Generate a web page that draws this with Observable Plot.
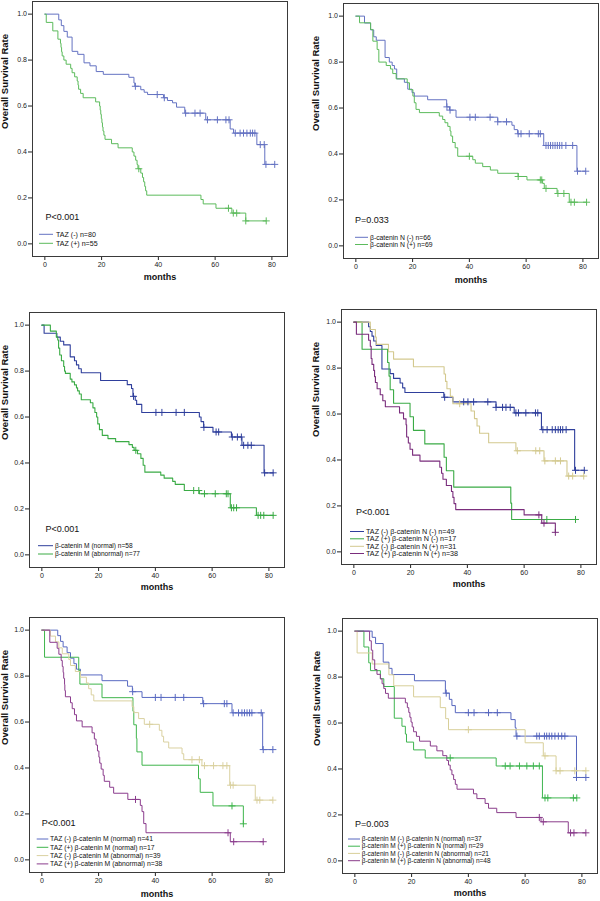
<!DOCTYPE html>
<html>
<head>
<meta charset="utf-8">
<script src="https://cdn.jsdelivr.net/npm/d3@7"></script>
<script src="https://cdn.jsdelivr.net/npm/@observablehq/plot@0.6"></script>
<style>
  html, body { margin: 0; padding: 0; background: #fff; }
  body { width: 600px; height: 901px; position: relative; overflow: hidden; font-family: "Liberation Sans", Arial, sans-serif; }
  .panel { position: absolute; }
  .panel svg { overflow: visible; }
</style>
</head>
<body>
<div id="p1" class="panel" style="left:0px;top:0px"></div>
<div id="p2" class="panel" style="left:300px;top:0px"></div>
<div id="p3" class="panel" style="left:0px;top:300px"></div>
<div id="p4" class="panel" style="left:300px;top:300px"></div>
<div id="p5" class="panel" style="left:0px;top:600px"></div>
<div id="p6" class="panel" style="left:300px;top:600px"></div>
<script>
// ---------- axis ticks ----------
const xTickValues = [0, 20, 40, 60, 80];
const yTickValues = [0, 0.2, 0.4, 0.6, 0.8, 1.0];
const xLabel = "months";
const yLabel = "Overall Survival Rate";

// ---------- Panel 1: TAZ ----------
const p1_labels = ["TAZ (-) n=80", "TAZ (+) n=55"];
const p1_pvalue = "P<0.001";
const p1_neg_t = [0,4.9,5.8,6.7,7.9,9.6,11.6,13.8,15.9,18.1,20.6,29.6,31.4,31.7,33.8,35,36.2,41.8,43.2,45,46.4,49.3,56.7,65.3,66.5,74.7,77.5,81];
const p1_neg_s = [1,0.975,0.95,0.925,0.9,0.838,0.825,0.788,0.775,0.75,0.738,0.725,0.7,0.686,0.671,0.66,0.65,0.636,0.624,0.614,0.595,0.569,0.54,0.5,0.482,0.432,0.346,0.346];
const p1_neg_c = [31.9,39.6,42.1,49.6,52.9,54.7,57.3,60.8,63.8,64.9,67.1,68.8,70,71.2,72.4,73.2,74,75.9,77.3,77.9,81];
const p1_pos_t = [0,0.5,2.8,4.6,5.5,5.7,5.9,6.1,6.7,7.5,9.1,9.6,10.5,11.4,11.7,11.9,12.6,13.5,17.9,19.3,19.5,19.7,19.9,20.1,20.3,20.5,20.8,21.2,23.5,25.8,30.8,31.4,32,32.5,32.8,33.8,34.4,34.8,35.2,35.5,35.9,55,55.8,60.3,65.9,70.8,78];
const p1_pos_s = [1,0.964,0.927,0.891,0.873,0.855,0.836,0.818,0.8,0.782,0.764,0.745,0.727,0.709,0.691,0.673,0.655,0.636,0.618,0.6,0.582,0.564,0.545,0.527,0.509,0.491,0.473,0.455,0.436,0.418,0.4,0.382,0.364,0.345,0.327,0.308,0.289,0.27,0.25,0.231,0.212,0.193,0.174,0.155,0.134,0.1,0.1];
const p1_pos_c = [33.1,64.7,66.4,67.6,70.8,78];

// ---------- Panel 2: beta-catenin N ----------
const p2_labels = ["β-catenin N (-) n=66", "β-catenin N (+) n=69"];
const p2_pvalue = "P=0.033";
const p2_neg_t = [0,3.05,5.2,6.3,7.2,10.3,11.8,12.8,13.6,14.4,17.1,18.3,19.8,20.6,25.3,32,33,35.3,50,55,55.8,57,66.2,77.9,81];
const p2_neg_s = [1,0.97,0.94,0.91,0.895,0.82,0.8,0.785,0.77,0.727,0.712,0.682,0.667,0.652,0.636,0.605,0.591,0.56,0.54,0.525,0.506,0.488,0.437,0.325,0.325];
const p2_neg_c = [32.1,33.2,40.2,42.1,47.3,50,53.1,57.2,58.2,61.1,64.3,65,67,67.8,68.6,69.4,70.2,71,71.8,72.6,74,76.4,78.1,81];
const p2_pos_t = [0,1.3,5.2,6,7.5,8.1,10.7,12.2,13,14.2,18.1,18.9,20.1,20.6,21.2,22.4,29.4,30.6,31.4,32.4,33.2,33.5,34.1,35,35.9,41.2,42.1,44.7,47.4,50,57.2,60.3,65.8,66.4,70.9,75.2,81.3];
const p2_pos_s = [1,0.971,0.942,0.891,0.855,0.8,0.785,0.77,0.75,0.727,0.71,0.68,0.652,0.623,0.594,0.58,0.565,0.55,0.536,0.52,0.5,0.478,0.45,0.427,0.39,0.375,0.36,0.345,0.33,0.316,0.302,0.287,0.272,0.25,0.228,0.19,0.19];
const p2_pos_c = [40,57.2,65,65.5,67,71.2,73.3,75.8,77,81.3];

// ---------- Panel 3: beta-catenin M ----------
const p3_labels = ["β-catenin M (normal) n=58", "β-catenin M (abnormal) n=77"];
const p3_pvalue = "P<0.001";
const p3_norm_t = [0,0.8,5.3,6.5,7.7,10,11.5,12.2,13,13.9,20.7,30.1,31.6,32.1,32.9,33.4,35.2,55.5,56.1,57,60.3,66.8,70.5,78.3,81.5];
const p3_norm_s = [1,0.965,0.948,0.93,0.914,0.862,0.845,0.827,0.81,0.793,0.759,0.741,0.724,0.69,0.673,0.655,0.62,0.6,0.58,0.555,0.535,0.513,0.477,0.357,0.357];
const p3_norm_c = [32.3,40.2,42.3,47.3,50.2,57.1,61.4,62.3,67.1,68.9,70.3,71.1,72.6,73.8,78.5,81.5];
const p3_abn_t = [0,3,5.1,5.6,5.9,6.3,6.9,7.7,8,8.3,10,10.6,11.5,12.2,12.6,13.2,13.9,17.1,18,18.7,19.3,19.7,20.3,21.3,23.3,26,30.7,31.9,32.5,33.7,34.9,35.7,36.3,41.9,43.1,46.1,47,50.2,55.5,66.4,75.6,81.5];
const p3_abn_s = [1,0.974,0.948,0.935,0.9,0.87,0.845,0.82,0.8,0.79,0.765,0.753,0.74,0.727,0.714,0.7,0.675,0.662,0.64,0.62,0.6,0.57,0.545,0.52,0.506,0.493,0.48,0.468,0.455,0.44,0.42,0.39,0.36,0.347,0.334,0.32,0.307,0.28,0.266,0.205,0.172,0.172];
const p3_abn_c = [33.1,53.5,55.3,57.3,61.1,65,65.6,66.8,67.6,68.6,76.2,77.1,78.2,81.5];

// ---------- Panel 4: TAZ x beta-catenin N ----------
const p4_labels = ["TAZ (-) β-catenin N (-) n=49", "TAZ (+) β-catenin N (-) n=17", "TAZ (-) β-catenin N (+) n=31", "TAZ (+) β-catenin N (+) n=38"];
const p4_pvalue = "P<0.001";
const p4_a_t = [0,5.2,5.8,6.4,7,7.9,9.9,12.8,14,16.3,17.2,18,31.7,34.9,50.1,56.5,66.1,77.8,81.2];
const p4_a_s = [1,0.98,0.959,0.939,0.918,0.898,0.796,0.776,0.755,0.735,0.714,0.694,0.673,0.653,0.629,0.605,0.532,0.355,0.355];
const p4_a_c = [32,38.7,40.2,42.2,47.2,50.1,52.4,53.6,55.1,57.1,58,60.6,64,64.8,66.6,68.1,69.9,71,72,72.8,73.6,74.8,78.1,81.2];
const p4_b_t = [0,2.9,11.9,12.4,12.8,14,19.8,21,25,31.8,32.6,35.2,55.3,55.6,78.1];
const p4_b_s = [1,0.882,0.824,0.765,0.706,0.647,0.588,0.529,0.47,0.412,0.353,0.282,0.212,0.141,0.141];
const p4_b_c = [68,78.1];
const p4_c_t = [0,5.8,7.6,7.9,12.2,14,21,31.8,32.3,32.8,34,34.9,41.3,42.5,43.4,44.3,47.5,57.1,67,75.1,81];
const p4_c_s = [1,0.968,0.935,0.903,0.871,0.839,0.806,0.774,0.742,0.71,0.677,0.645,0.613,0.58,0.548,0.516,0.475,0.44,0.396,0.33,0.33];
const p4_c_c = [37.3,57.6,64.1,65.5,67.3,71,72.8,75.7,77.1,81];
const p4_d_t = [0,0.9,5.2,5.8,6.1,6.4,7,7.3,7.6,8.2,9.3,10.2,11.1,16.1,17.5,18.4,18.6,19.2,19.8,20.7,23.3,30.3,30.9,31.4,32.6,34.4,34.9,35.3,35.9,60,66.2,71];
const p4_d_s = [1,0.947,0.921,0.895,0.842,0.816,0.79,0.763,0.737,0.71,0.684,0.658,0.632,0.605,0.579,0.553,0.5,0.474,0.447,0.421,0.395,0.368,0.342,0.316,0.289,0.263,0.237,0.21,0.184,0.161,0.125,0.085];
const p4_d_c = [65.2,67,71];

// ---------- Panel 5: TAZ x beta-catenin M ----------
const p5_labels = ["TAZ (-) β-catenin M (normal) n=41", "TAZ (+) β-catenin M (normal) n=17", "TAZ (-) β-catenin M (abnormal) n=39", "TAZ (+) β-catenin M (abnormal) n=38"];
const p5_pvalue = "P<0.001";
const p5_a_t = [0,5.6,6.6,7.5,8.9,10.1,11.3,12.2,13.6,21.2,30.2,31.9,35.3,56.7,67,77.8,81.4];
const p5_a_s = [1,0.976,0.951,0.927,0.902,0.878,0.854,0.83,0.805,0.78,0.756,0.732,0.707,0.68,0.64,0.48,0.48];
const p5_a_c = [32,40,42,47,50,57,64.3,65.2,67.4,69.3,70.5,71.4,72.3,73.2,74,77.3,78,81.4];
const p5_b_t = [0,0.95,13,13.4,21.2,32.1,32.4,33.3,33.5,35.3,55.2,55.8,60.3,71];
const p5_b_s = [1,0.882,0.824,0.765,0.706,0.647,0.588,0.529,0.47,0.412,0.353,0.294,0.235,0.157];
const p5_b_c = [67,71];
const p5_c_t = [0,3,4.8,6,7.2,9.5,10.1,11.8,13.6,15.7,16.5,17.4,18.3,31.8,32.4,34.1,36.1,41.4,42.3,42.9,44.7,49.4,50,56.4,66.2,75.2,81.4];
const p5_c_s = [1,0.974,0.949,0.923,0.897,0.872,0.846,0.82,0.795,0.77,0.745,0.718,0.692,0.667,0.641,0.615,0.59,0.564,0.538,0.513,0.487,0.462,0.436,0.41,0.325,0.26,0.26];
const p5_c_c = [38,52.9,55.5,57.3,60.5,63.8,65.2,66.5,67.4,75.8,76.8,81.4];
const p5_d_t = [0,2.8,5.4,6,6.8,7.2,7.5,7.7,8,8.1,8.3,10.1,10.7,11.5,12.2,14.2,17.7,18.5,19.1,19.6,20.1,20.4,20.9,21.6,22,23.9,25.3,30.3,34.7,35.3,35.9,36.7,66.4,78];
const p5_d_s = [1,0.947,0.921,0.895,0.868,0.842,0.816,0.79,0.763,0.737,0.71,0.684,0.658,0.632,0.605,0.579,0.553,0.526,0.5,0.474,0.447,0.421,0.395,0.368,0.342,0.316,0.29,0.263,0.237,0.21,0.158,0.118,0.079,0.079];
const p5_d_c = [33,65.6,67.6,78];

// ---------- Panel 6: beta-catenin M x beta-catenin N ----------
const p6_labels = ["β-catenin M (-) β-catenin N (normal) n=37", "β-catenin M (+) β-catenin N (normal) n=29", "β-catenin M (-) β-catenin N (abnormal) n=21", "β-catenin M (+) β-catenin N (abnormal) n=48"];
const p6_pvalue = "P=0.003";
const p6_a_t = [0,6.1,7.3,10,12,13.1,21,31.9,33.3,34.2,35.4,55,56.5,56.8,78.1,81.4];
const p6_a_s = [1,0.973,0.946,0.865,0.838,0.811,0.784,0.73,0.703,0.676,0.645,0.615,0.58,0.543,0.363,0.363];
const p6_a_c = [32.2,40,42,47.1,50.2,57.1,64.1,65,66.8,67.6,68.5,69.4,70.5,71.7,72.9,74,78.1,81.4];
const p6_b_t = [0,3.2,4.9,5.5,9,10.2,13.9,16.6,17.8,18.2,20.7,24.8,49.8,66.1,78.2];
const p6_b_s = [1,0.931,0.862,0.828,0.793,0.759,0.621,0.586,0.552,0.517,0.483,0.448,0.413,0.274,0.274];
const p6_b_c = [33.6,53,54.7,58,60.6,62.9,65,67,68,77,78.2];
const p6_c_t = [0,0.8,6.1,12,13.7,20.7,30.1,32,33,60,66.4,70.9,81.4];
const p6_c_s = [1,0.905,0.857,0.81,0.762,0.714,0.667,0.619,0.571,0.514,0.457,0.392,0.392];
const p6_c_c = [40,67,70.9,72.3,77.5,81.4];
const p6_d_t = [0,5.2,5.8,6.3,7,7.8,9,9.6,10.2,10.8,11.8,17.8,18.5,19,19.4,19.8,20.2,20.7,21.7,22.8,26.6,28.9,31,32.4,33,33.6,34.2,34.8,35.4,36,41.8,43,45.9,47.1,50,56.8,65.6,75.2,81.4];
const p6_d_s = [1,0.958,0.917,0.875,0.833,0.812,0.792,0.771,0.75,0.729,0.708,0.688,0.667,0.646,0.625,0.604,0.583,0.562,0.542,0.521,0.5,0.479,0.458,0.437,0.417,0.396,0.375,0.354,0.333,0.312,0.292,0.271,0.25,0.229,0.21,0.189,0.17,0.122,0.122];
const p6_d_c = [65,66.4,76,77.2,81.4];

// ---------- drawing ----------
const FONT = "'Liberation Sans', Arial, Helvetica, sans-serif";

function stepAt(t, s, x) {
  let v = s[0];
  for (let i = 0; i < t.length; i++) if (t[i] <= x + 1e-9) v = s[i];
  return v;
}

function makePanel(id, cfg) {
  const H = cfg.height || 300, W = 300, FW = 255, FH = 255;
  const names = cfg.series.map(d => d.label);
  const colors = cfg.series.map(d => d.color);
  const rows = [], cens = [];
  cfg.series.forEach(se => {
    se.t.forEach((t, i) => rows.push({ name: se.label, t, s: se.s[i] }));
    se.c.forEach(c => cens.push({ name: se.label, t: c, s: stepAt(se.t, se.s, c) }));
  });
  const svg = Plot.plot({
    width: W, height: H,
    marginLeft: cfg.left, marginTop: cfg.top,
    marginRight: W - cfg.left - FW, marginBottom: H - cfg.top - FH,
    style: { fontFamily: FONT, fontSize: "7px", color: "#222", background: "transparent", overflow: "visible" },
    x: { domain: [-4.35, 85.5], ticks: xTickValues, tickSize: 4, tickPadding: 2, label: null },
    y: { domain: [-0.055, 1.055], ticks: yTickValues, tickFormat: d3.format(".1f"), tickSize: 4, tickPadding: 1.5, label: null },
    color: { domain: names, range: colors },
    marks: [
      Plot.frame({ stroke: "#3a3a3a", strokeWidth: 1 }),
      Plot.line(rows, { x: "t", y: "s", z: "name", stroke: "name", curve: "step-after", strokeWidth: cfg.sw || 1 }),
      Plot.dot(cens, { x: "t", y: "s", stroke: "name", symbol: "plus", r: 2.4, strokeWidth: 1 }),
      Plot.text([xLabel], { text: d => d, frameAnchor: "bottom", dy: cfg.xlabDy, fontWeight: "bold", fontSize: 9, fill: "#111" }),
      Plot.text([yLabel], { text: d => d, frameAnchor: "left", dx: cfg.ylabDx, rotate: -90, fontWeight: "bold", fontSize: 9.5, fill: "#111" })
    ]
  });
  const g = d3.select(svg).append("g")
    .attr("font-family", FONT).attr("fill", "#111").attr("text-anchor", "start");
  g.append("text").attr("x", cfg.pX).attr("y", cfg.pY).attr("dy", "0.35em")
    .attr("text-anchor", "start").attr("font-size", 9).text(cfg.pText);
  cfg.series.forEach((se, i) => {
    const y = cfg.legY[i];
    g.append("line").attr("x1", cfg.legX1).attr("x2", cfg.legX2).attr("y1", y).attr("y2", y)
      .attr("stroke", se.color).attr("stroke-width", 1);
    g.append("text").attr("x", cfg.legTX).attr("y", y).attr("dy", "0.35em")
      .attr("text-anchor", "start").attr("font-size", cfg.legFS).text(se.label);
  });
  document.getElementById(id).appendChild(svg);
}

const BLUE1 = "#6472c2", GREEN1 = "#5cbb5c";
const BLUE2 = "#2f3f9c", GREEN2 = "#3aab45";
const TAN = "#d3c98f", PURPLE = "#7a2d7c";

makePanel("p1", {
  left: 32, top: 1, xlabDy: 23.5, ylabDx: -27.5,
  pText: p1_pvalue, pX: 45.5, pY: 216.5,
  legX1: 39, legX2: 53, legTX: 56, legY: [234.3, 243.3], legFS: 7.1,
  series: [
    { label: p1_labels[0], color: BLUE1, t: p1_neg_t, s: p1_neg_s, c: p1_neg_c },
    { label: p1_labels[1], color: GREEN1, t: p1_pos_t, s: p1_pos_s, c: p1_pos_c }
  ]
});
makePanel("p2", {
  left: 43, top: 3, xlabDy: 24, ylabDx: -28,
  pText: p2_pvalue, pX: 55, pY: 220,
  legX1: 55, legX2: 68, legTX: 70, legY: [237.3, 244.5], legFS: 6.8,
  series: [
    { label: p2_labels[0], color: BLUE1, t: p2_neg_t, s: p2_neg_s, c: p2_neg_c },
    { label: p2_labels[1], color: GREEN1, t: p2_pos_t, s: p2_pos_s, c: p2_pos_c }
  ]
});
makePanel("p3", {
  left: 29, top: 12, xlabDy: 22.5, ylabDx: -24.7, sw: 1.1,
  pText: p3_pvalue, pX: 45.5, pY: 229.3,
  legX1: 38, legX2: 53, legTX: 55, legY: [245.7, 254], legFS: 6.6,
  series: [
    { label: p3_labels[0], color: BLUE2, t: p3_norm_t, s: p3_norm_s, c: p3_norm_c },
    { label: p3_labels[1], color: GREEN2, t: p3_abn_t, s: p3_abn_s, c: p3_abn_c }
  ]
});
makePanel("p4", {
  left: 41, top: 9, xlabDy: 22.5, ylabDx: -26, sw: 1.1,
  pText: p4_pvalue, pX: 56, pY: 211.7,
  legX1: 50, legX2: 64, legTX: 66, legY: [231.5, 238.8, 246.3, 253.5], legFS: 7.2,
  series: [
    { label: p4_labels[0], color: BLUE2, t: p4_a_t, s: p4_a_s, c: p4_a_c },
    { label: p4_labels[1], color: GREEN2, t: p4_b_t, s: p4_b_s, c: p4_b_c },
    { label: p4_labels[2], color: TAN, t: p4_c_t, s: p4_c_s, c: p4_c_c },
    { label: p4_labels[3], color: PURPLE, t: p4_d_t, s: p4_d_s, c: p4_d_c }
  ]
});
makePanel("p5", {
  left: 29, top: 17, height: 301, xlabDy: 24, ylabDx: -24.7,
  pText: p5_pvalue, pX: 41.7, pY: 223,
  legX1: 36.7, legX2: 48.3, legTX: 50, legY: [239, 247.3, 255.6, 263.9], legFS: 6.8,
  series: [
    { label: p5_labels[0], color: "#5a6bc2", t: p5_a_t, s: p5_a_s, c: p5_a_c },
    { label: p5_labels[1], color: "#3fb54c", t: p5_b_t, s: p5_b_s, c: p5_b_c },
    { label: p5_labels[2], color: "#dad1a0", t: p5_c_t, s: p5_c_s, c: p5_c_c },
    { label: p5_labels[3], color: "#8b3c8d", t: p5_d_t, s: p5_d_s, c: p5_d_c }
  ]
});
makePanel("p6", {
  left: 42, top: 18, height: 301, xlabDy: 22.7, ylabDx: -25.3,
  pText: p6_pvalue, pX: 55, pY: 224,
  legX1: 48, legX2: 60, legTX: 61.7, legY: [239, 246.2, 253.4, 260.7], legFS: 6.5,
  series: [
    { label: p6_labels[0], color: "#5666be", t: p6_a_t, s: p6_a_s, c: p6_a_c },
    { label: p6_labels[1], color: "#3fb550", t: p6_b_t, s: p6_b_s, c: p6_b_c },
    { label: p6_labels[2], color: "#d8cf99", t: p6_c_t, s: p6_c_s, c: p6_c_c },
    { label: p6_labels[3], color: "#8a3d8b", t: p6_d_t, s: p6_d_s, c: p6_d_c }
  ]
});
</script>
</body>
</html>
